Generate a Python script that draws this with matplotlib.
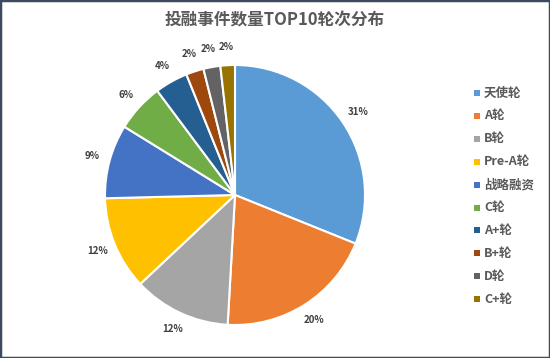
import matplotlib.pyplot as plt
from matplotlib.patches import Rectangle

plt.rcParams['font.family'] = ['Noto Sans CJK SC', 'DejaVu Sans']

labels = ['天使轮', 'A轮', 'B轮', 'Pre-A轮', '战略融资', 'C轮', 'A+轮', 'B+轮', 'D轮', 'C+轮']
shares = [31.1, 19.8, 12.1, 11.6, 9.2, 6.0, 4.1, 2.2, 2.1, 1.8]
colors = ['#5B9BD5', '#ED7D31', '#A5A5A5', '#FFC000', '#4472C4',
          '#70AD47', '#255E91', '#9E480E', '#636363', '#997300']
title = '投融事件数量TOP10轮次分布'

W, H = 550, 358
fig = plt.figure(figsize=(W / 100, H / 100), dpi=100)
fig.patch.set_facecolor('white')

cx, cy, r = 235, 195, 130
ax = fig.add_axes([(cx - r) / W, (H - cy - r) / H, 2 * r / W, 2 * r / H])
wedges, texts, autotexts = ax.pie(
    shares, colors=colors, startangle=90, counterclock=False,
    autopct='%.0f%%', pctdistance=1.14, radius=1,
    wedgeprops=dict(edgecolor='white', linewidth=1.5),
    textprops=dict(fontsize=7, color='#404040', fontweight='bold'))
ax.set_xlim(-1, 1)
ax.set_ylim(-1, 1)
ax.set_aspect('auto')
ax.axis('off')

fig.text(275 / W, 1 - 20 / H, title, ha='center', va='center',
         fontsize=12, color='#595959', fontweight='bold')

# legend
y0, dy = 93, 22.9
for i, (lab, c) in enumerate(zip(labels, colors)):
    y = y0 + i * dy
    fig.patches.append(Rectangle(((474) / W, 1 - (y + 3) / H), 6 / W, 6 / H,
                                 transform=fig.transFigure, facecolor=c,
                                 edgecolor='none'))
    fig.text(484 / W, 1 - y / H, lab, ha='left', va='center',
             fontsize=9, color='#595959', fontweight='bold')

# outer border
fig.patches.append(Rectangle((0, 0), 1, 1, transform=fig.transFigure,
                             fill=False, edgecolor='#3B4A5E', linewidth=2.5))

fig.savefig('out.png', dpi=100)
